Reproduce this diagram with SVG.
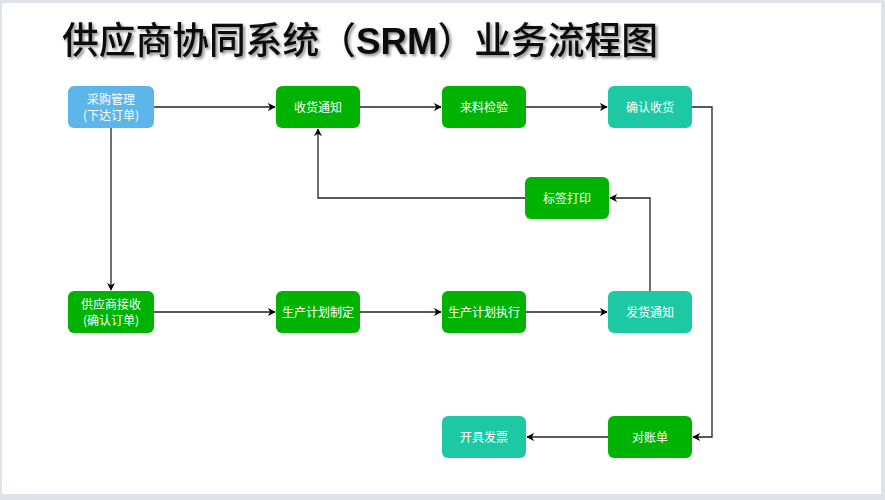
<svg xmlns="http://www.w3.org/2000/svg" width="885" height="500" viewBox="0 0 885 500">
<defs>
<marker id="arr" viewBox="0 0 10 10" refX="9" refY="5" markerWidth="8" markerHeight="8" markerUnits="userSpaceOnUse" orient="auto"><path d="M0,0 L10,5 L0,10 L3,5 Z" fill="#000"/></marker>
<filter id="sh" x="-5%" y="-20%" width="110%" height="150%"><feDropShadow dx="2" dy="2" stdDeviation="1.5" flood-color="#000" flood-opacity="0.45"/></filter>
</defs>
<style>
.n rect{rx:6;ry:6}
.g{fill:#00b300}
.t{fill:#1dc9a4}
.b{fill:#5cb6ea}
.n text{font-family:"Noto Sans CJK SC","Microsoft YaHei",sans-serif;font-size:12px;fill:#fff;text-anchor:middle}
.c path{fill:none;stroke:#222;stroke-width:1.3;marker-end:url(#arr)}
</style>
<rect width="885" height="500" fill="#dfe2e9"/>
<rect x="2" y="3" width="879" height="491" fill="#ffffff"/>
<text x="62" y="54" font-family="'Noto Sans CJK SC',sans-serif" font-size="37" font-weight="500" fill="#111" filter="url(#sh)" textLength="596" lengthAdjust="spacingAndGlyphs">供应商协同系统（<tspan font-family="'Liberation Sans',sans-serif" font-weight="bold">SRM</tspan>）业务流程图</text>
<g class="c">
<path d="M154,107 H275"/>
<path d="M360,107 H441"/>
<path d="M526,107 H607"/>
<path d="M692,107 H712 V437 H693"/>
<path d="M111,128 V290"/>
<path d="M154,312 H275"/>
<path d="M360,312 H441"/>
<path d="M526,312 H607"/>
<path d="M650,291 V198 H610"/>
<path d="M525,198 H318 V129"/>
<path d="M608,437 H527"/>
</g>
<g id="n1" class="n"><rect class="b" x="68" y="86" width="86" height="42"/><text x="111" y="104">采购管理</text><text x="111" y="120">(下达订单)</text></g>
<g id="n2" class="n"><rect class="g" x="276" y="86" width="84" height="42"/><text x="318" y="111.5">收货通知</text></g>
<g id="n3" class="n"><rect class="g" x="442" y="86" width="84" height="42"/><text x="484" y="111.5">来料检验</text></g>
<g id="n4" class="n"><rect class="t" x="608" y="86" width="84" height="42"/><text x="650" y="111.5">确认收货</text></g>
<g id="n5" class="n"><rect class="g" x="525" y="177" width="84" height="42"/><text x="567" y="202.5">标签打印</text></g>
<g id="n6" class="n"><rect class="g" x="68" y="291" width="86" height="42"/><text x="111" y="309">供应商接收</text><text x="111" y="325">(确认订单)</text></g>
<g id="n7" class="n"><rect class="g" x="276" y="291" width="84" height="42"/><text x="318" y="316.5">生产计划制定</text></g>
<g id="n8" class="n"><rect class="g" x="442" y="291" width="84" height="42"/><text x="484" y="316.5">生产计划执行</text></g>
<g id="n9" class="n"><rect class="t" x="608" y="291" width="84" height="42"/><text x="650" y="316.5">发货通知</text></g>
<g id="n10" class="n"><rect class="t" x="442" y="416" width="84" height="42"/><text x="484" y="441.5">开具发票</text></g>
<g id="n11" class="n"><rect class="g" x="608" y="416" width="84" height="42"/><text x="650" y="441.5">对账单</text></g>
</svg>
